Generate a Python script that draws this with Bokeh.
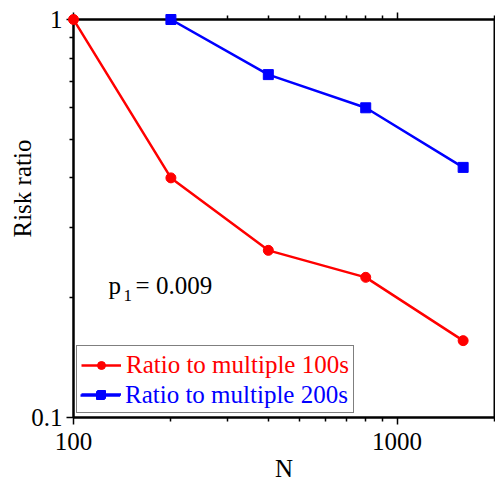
from bokeh.plotting import figure
from bokeh.models import (LogAxis, FixedTicker, CustomJSTickFormatter, Legend,
                          LegendItem, Label, Range1d, Title)
from bokeh.embed import file_html
from bokeh.resources import INLINE

# ---- data ----
n_100s = [100, 200, 400, 800, 1600]
ratio_100s = [1.0, 0.40, 0.263, 0.225, 0.156]
n_200s = [200, 400, 800, 1600]
ratio_200s = [1.0, 0.727, 0.600, 0.425]

x_major = [100, 1000]
x_minor = [200, 300, 400, 500, 600, 700, 800, 900, 2000]
y_major = [0.1, 1]
y_minor = [0.2, 0.3, 0.4, 0.5, 0.6, 0.7, 0.8, 0.9]

label_100s = "Ratio to multiple 100s"
label_200s = "Ratio to multiple 200s"
x_title = "N"
y_title = "Risk ratio"

RED = "#ff0000"
BLUE = "#0000ff"
FONT = "Liberation Serif"
FS = "25px"

p = figure(width=495, height=484, x_axis_type="log", y_axis_type="log",
           x_range=Range1d(100, 2000), y_range=Range1d(0.1, 1),
           output_backend="svg", toolbar_location=None,
           min_border_top=19, min_border_right=1, min_border_left=73,
           min_border_bottom=66, x_axis_label=x_title)
p.grid.visible = False
p.outline_line_color = "black"
p.outline_line_width = 2
p.background_fill_color = "white"

fmt = CustomJSTickFormatter(code="return String(tick)")

def style_axis(ax, ticks, minors):
    ax.ticker = FixedTicker(ticks=ticks, minor_ticks=minors)
    ax.formatter = fmt
    ax.axis_line_width = 2
    ax.axis_line_color = "black"
    ax.major_tick_line_width = 1.5
    ax.minor_tick_line_width = 1.5
    ax.major_tick_in = 0
    ax.major_tick_out = 7
    ax.minor_tick_in = 0
    ax.minor_tick_out = 4
    ax.major_label_text_font = FONT
    ax.major_label_text_font_size = FS
    ax.major_label_text_color = "black"
    ax.axis_label_text_font = FONT
    ax.axis_label_text_font_size = FS
    ax.axis_label_text_font_style = "normal"
    ax.axis_label_text_color = "black"

style_axis(p.xaxis[0], x_major, x_minor)
style_axis(p.yaxis[0], y_major, y_minor)
p.xaxis[0].major_label_standoff = 8
p.xaxis[0].axis_label_standoff = 2
p.yaxis[0].major_label_standoff = 4

top = LogAxis()
style_axis(top, x_major, x_minor)
top.formatter = CustomJSTickFormatter(code="return ''")
top.major_label_text_font_size = "1px"
top.major_label_standoff = 0
p.add_layout(top, "above")

# y title as a left-side Title (offset from the bottom of the frame)
p.add_layout(Title(text=y_title, align="left", offset=180, standoff=-14,
                   vertical_align="bottom", text_font=FONT,
                   text_font_size=FS, text_font_style="normal",
                   text_color="black"), "left")

# ---- data renderers ----
r_line = p.line(n_100s, ratio_100s, line_color=RED, line_width=2.5)
r_pts = p.scatter(n_100s, ratio_100s, marker="circle", size=10,
                  fill_color=RED, line_color=RED, level="overlay")
b_line = p.line(n_200s, ratio_200s, line_color=BLUE, line_width=2.5)
b_pts = p.scatter(n_200s, ratio_200s, marker="square", size=10,
                  fill_color=BLUE, line_color=BLUE, level="overlay")

# ---- legend (two overlaid legends for per-item text colour) ----
P1 = 4
LX, LY = 3, 4
LH = 29
common = dict(padding=P1, spacing=0, margin=0, glyph_width=40, glyph_height=20,
              label_standoff=5, label_height=LH, label_text_font=FONT,
              label_text_font_size=FS)
leg1 = Legend(items=[LegendItem(label=label_100s, renderers=[r_line, r_pts]),
                     LegendItem(label=" ", renderers=[b_line, b_pts])],
              location=(LX, LY), label_text_color=RED,
              border_line_color="black", border_line_width=1,
              background_fill_color="white", background_fill_alpha=1, **common)
leg2 = Legend(items=[LegendItem(label=label_200s, renderers=[b_line, b_pts])],
              location=(LX, LY), label_text_color=BLUE, border_line_alpha=0,
              background_fill_alpha=0, **common)
p.add_layout(leg1, "center")
p.add_layout(leg2, "center")

# ---- p1 annotation ----
ann = [("p", 128.3, 0.2151, FS), ("1", 142.7, 0.2023, "17px"),
       ("= 0.009", 155.5, 0.2151, FS)]
for txt, ax_, ay_, fs in ann:
    p.add_layout(Label(x=ax_, y=ay_, text=txt, text_font=FONT, text_font_size=fs,
                       text_color="black", text_baseline="middle"))

open("out.html", "w").write(file_html(p, INLINE))
